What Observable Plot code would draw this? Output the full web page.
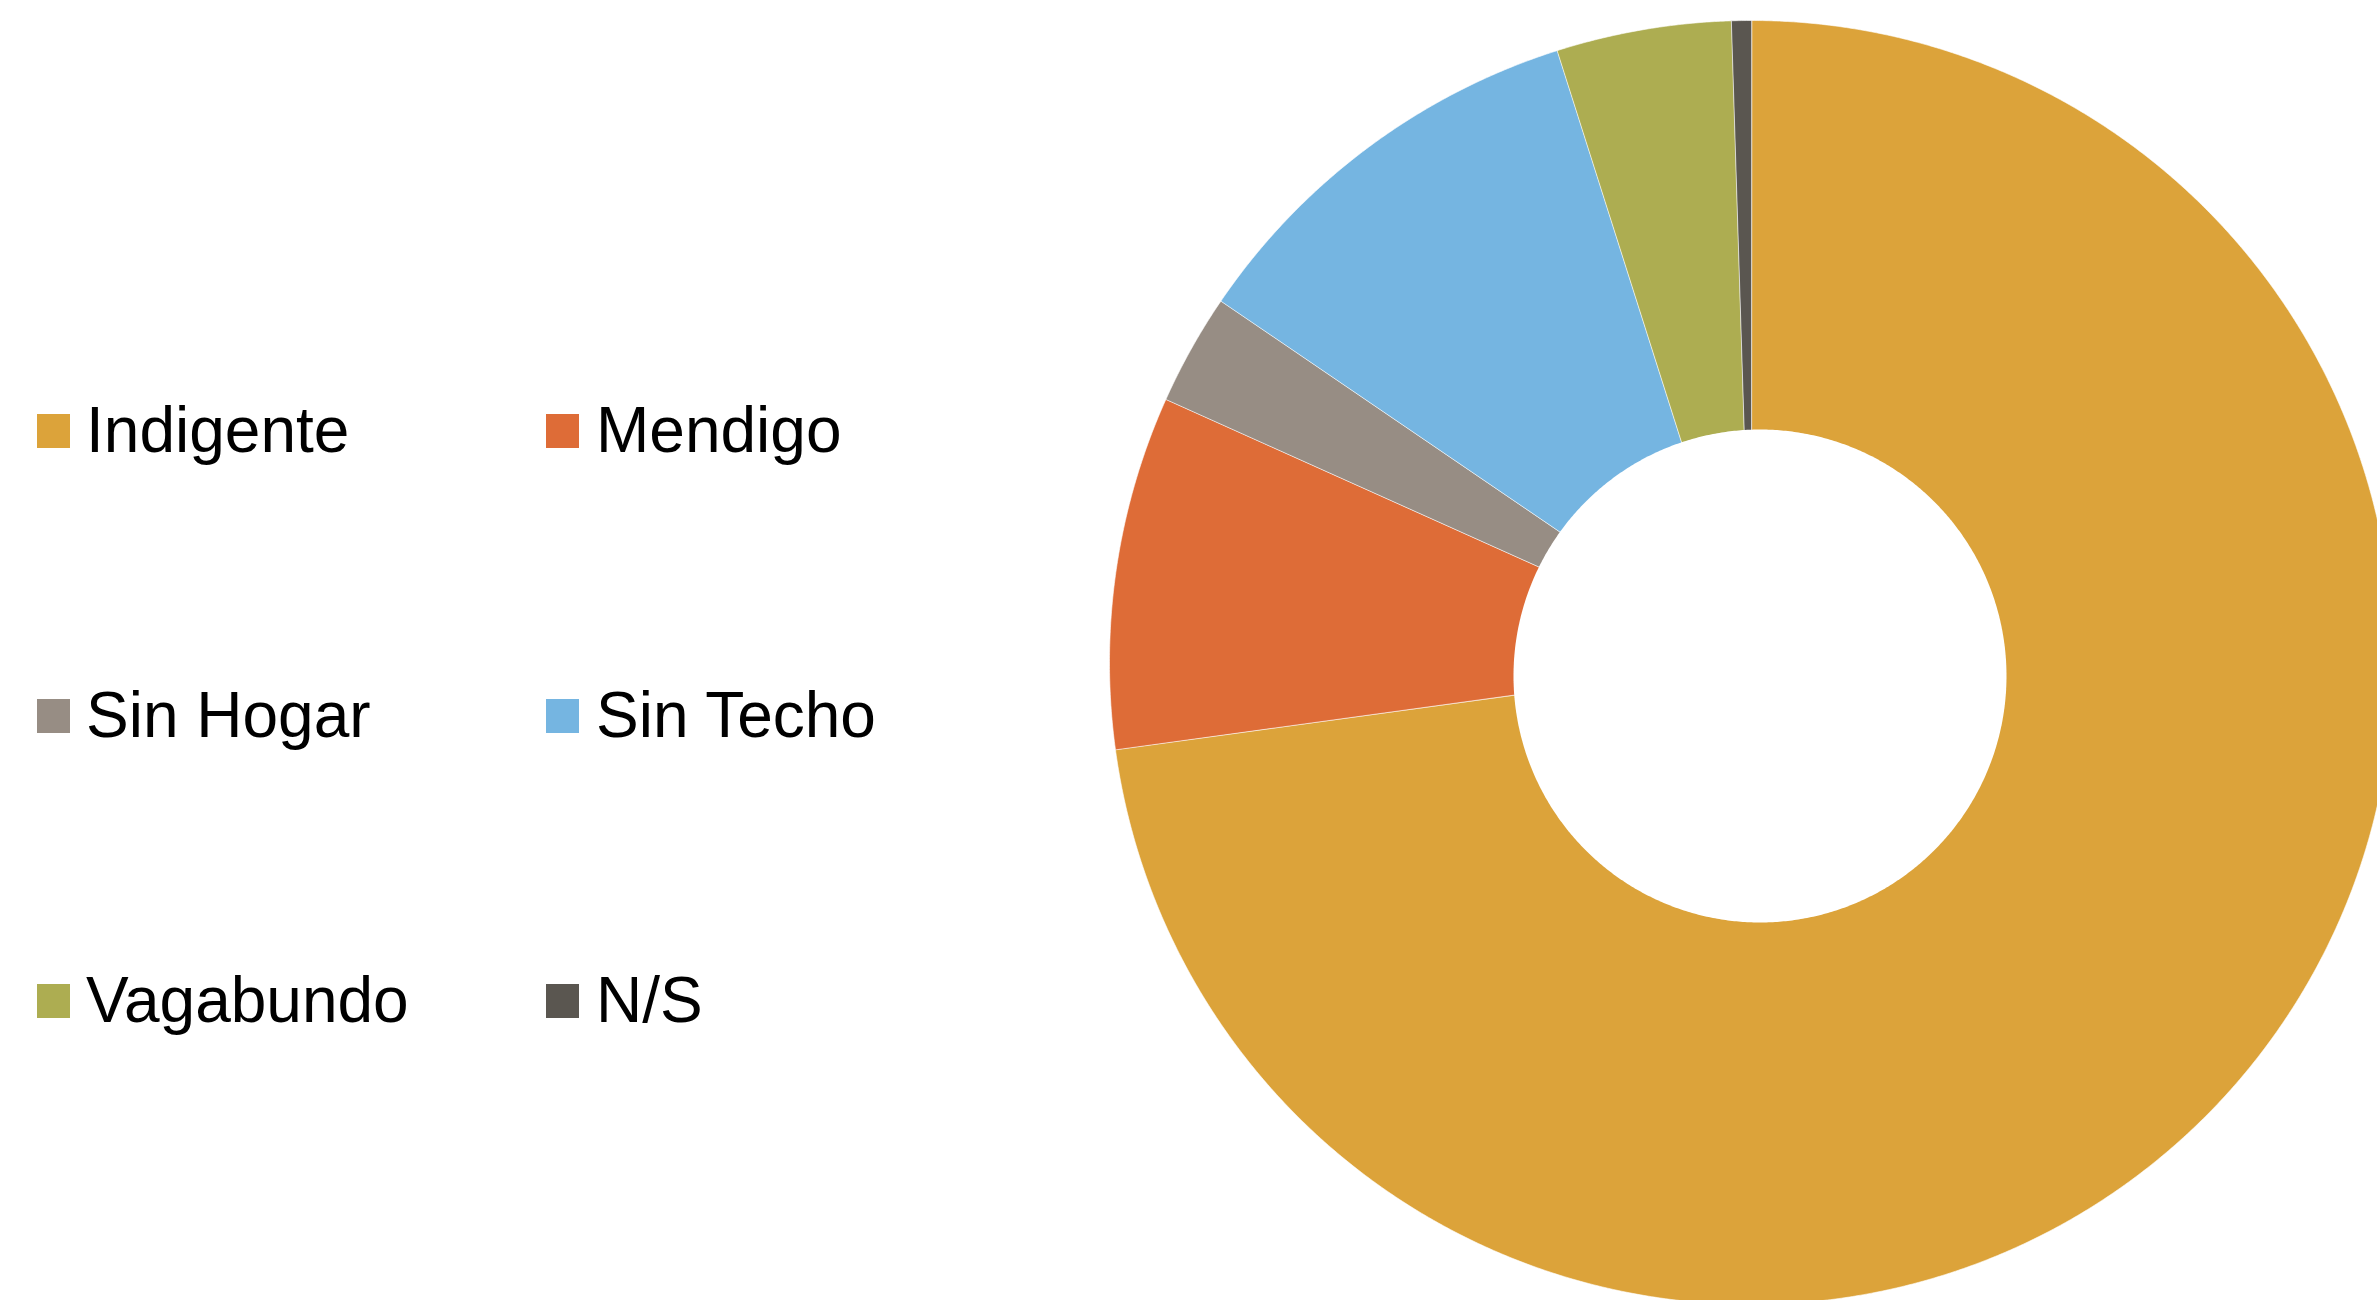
<!DOCTYPE html>
<html>
<head>
<meta charset="utf-8">
<script src="https://cdn.jsdelivr.net/npm/d3@7"></script>
<script src="https://cdn.jsdelivr.net/npm/@observablehq/plot@0.6"></script>
<style>
  html, body { margin: 0; padding: 0; background: #fff; }
  #wrap { position: relative; width: 2377px; height: 1300px; overflow: hidden; }
  #chart { position: absolute; left: 0; top: 0; }
  .item { position: absolute; height: 64px; font-family: "Liberation Sans", Arial, sans-serif; font-size: 64px; line-height: 64px; color: #000; white-space: nowrap; }
  .sw { position: absolute; width: 33px; height: 34px; }
</style>
</head>
<body>
<div id="wrap"><div id="chart"></div></div>
<script>
// Data (share of total, %)
const categories = ["Indigente", "Mendigo", "Sin Hogar", "Sin Techo", "Vagabundo", "N/S"];
const values = [72.9, 8.9, 2.8, 10.6, 4.4, 0.5];
const colors = ["#DCA33A", "#DE6C37", "#978D84", "#75B5E1", "#ADAD51", "#5A5650"];

// Layout (pixels)
const W = 2377, H = 1300;
const cx = 1751, cy = 662, R = 642;        // pie centre and outer radius
const holeDx = 8.5, holeDy = 13.5, holeR = 246.5; // hole offset (px) and radius

// Build wedge outlines in data units (outer radius = 1, y up)
const arcs = d3.pie().sort(null).startAngle(0).endAngle(2 * Math.PI)(values);
const wedgePts = [];
arcs.forEach((a, i) => {
  const name = categories[i];
  wedgePts.push({name, x: 0, y: 0});
  const n = Math.max(2, Math.ceil((a.endAngle - a.startAngle) / (Math.PI / 720)));
  for (let k = 0; k <= n; k++) {
    const t = a.startAngle + (a.endAngle - a.startAngle) * k / n;
    wedgePts.push({name, x: Math.sin(t), y: Math.cos(t)});
  }
});
const hx = holeDx / R, hy = -holeDy / R, hr = holeR / R;
const holePts = d3.range(0, 721).map(k => {
  const t = k / 720 * 2 * Math.PI;
  return {x: hx + hr * Math.sin(t), y: hy + hr * Math.cos(t)};
});

const chart = Plot.plot({
  width: W, height: H,
  margin: 0,
  style: {background: "white", overflow: "hidden"},
  x: {axis: null, domain: [-cx / R, (W - cx) / R], range: [0, W]},
  y: {axis: null, domain: [-(H - cy) / R, cy / R], range: [H, 0]},
  color: {domain: categories, range: colors},
  marks: [
    Plot.line(wedgePts, {x: "x", y: "y", z: "name", fill: "name", stroke: "white", strokeWidth: 0.6, curve: "linear-closed", clip: true}),
    Plot.line(holePts, {x: "x", y: "y", fill: "white", stroke: "none", curve: "linear-closed", clip: true})
  ]
});
document.getElementById("chart").appendChild(chart);

// Legend (two columns, three rows)
const wrap = document.getElementById("wrap");
categories.forEach((c, i) => {
  const col = i % 2, row = Math.floor(i / 2);
  const swLeft = col === 0 ? 37 : 546;
  const txtLeft = col === 0 ? 86 : 596;
  const swTop = 414 + row * 285;
  const baseline = 452 + row * 285;
  const sw = document.createElement("div");
  sw.className = "sw";
  sw.style.left = swLeft + "px";
  sw.style.top = swTop + "px";
  sw.style.background = colors[i];
  wrap.appendChild(sw);
  const t = document.createElement("div");
  t.className = "item";
  t.style.left = txtLeft + "px";
  t.style.top = (baseline - 54) + "px";
  t.textContent = c;
  wrap.appendChild(t);
});
</script>
</body>
</html>
